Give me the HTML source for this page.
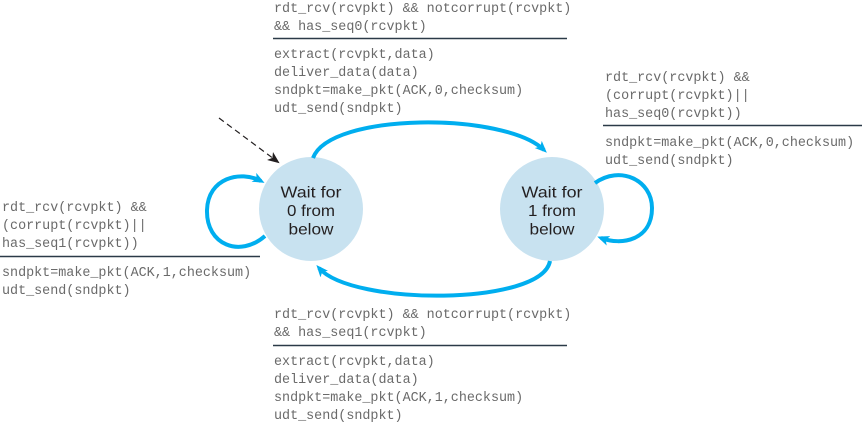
<!DOCTYPE html>
<html>
<head>
<meta charset="utf-8">
<style>
  html, body { margin:0; padding:0; background:#ffffff; }
  body { width:865px; height:422px; overflow:hidden; }
  svg { display:block; }
  .m { font-family:"Liberation Mono", monospace; font-size:13.4px; fill:#6a6a6a; }
  .s { font-family:"Liberation Sans", sans-serif; font-size:16px; fill:#231f20; text-anchor:middle; }
</style>
</head>
<body>
<svg width="865" height="422" viewBox="0 0 865 422" xmlns="http://www.w3.org/2000/svg">
  <defs>
    <marker id="ab" viewBox="0 0 12 10" refX="8" refY="5" markerWidth="12" markerHeight="10" markerUnits="userSpaceOnUse" orient="auto">
      <path d="M0,0 L12,5 L0,10 L3,5 z" fill="#00aeef"/>
    </marker>
    <marker id="ak" viewBox="0 0 12 10" refX="10" refY="5" markerWidth="12" markerHeight="10" markerUnits="userSpaceOnUse" orient="auto">
      <path d="M0,0 L12,5 L0,10 L3,5 z" fill="#231f20"/>
    </marker>
  </defs>

  <!-- states -->
  <circle cx="311" cy="209" r="52" fill="#c8e2f0"/>
  <circle cx="552" cy="209" r="52" fill="#c8e2f0"/>

  <text class="s" x="311" y="197.5" textLength="61" lengthAdjust="spacingAndGlyphs">Wait for</text>
  <text class="s" x="311" y="216" textLength="48" lengthAdjust="spacingAndGlyphs">0 from</text>
  <text class="s" x="311" y="234.5" textLength="45" lengthAdjust="spacingAndGlyphs">below</text>

  <text class="s" x="552" y="197.5" textLength="61" lengthAdjust="spacingAndGlyphs">Wait for</text>
  <text class="s" x="552" y="216" textLength="48" lengthAdjust="spacingAndGlyphs">1 from</text>
  <text class="s" x="552" y="234.5" textLength="45" lengthAdjust="spacingAndGlyphs">below</text>

  <!-- transitions -->
  <path d="M313,158 C330,112 505,112 544,150" fill="none" stroke="#00aeef" stroke-width="4" marker-end="url(#ab)"/>
  <path d="M550,261 C542,306 352,306 319,268" fill="none" stroke="#00aeef" stroke-width="4" marker-end="url(#ab)"/>
  <path d="M265,236 C240,258 206,245 207,210 C208,178 240,170 261,181" fill="none" stroke="#00aeef" stroke-width="4" marker-end="url(#ab)"/>
  <path d="M595,183 C620,165 652,180 652,208 C652,240 622,246 601,238" fill="none" stroke="#00aeef" stroke-width="4" marker-end="url(#ab)"/>

  <!-- initial dashed arrow -->
  <path d="M219,118 L278,162" fill="none" stroke="#231f20" stroke-width="1.2" stroke-dasharray="6,4" marker-end="url(#ak)"/>

  <!-- top label -->
  <text class="m" x="274" y="12">rdt_rcv(rcvpkt) &amp;&amp; notcorrupt(rcvpkt)</text>
  <text class="m" x="274" y="30">&amp;&amp; has_seq0(rcvpkt)</text>
  <line x1="273" y1="38.5" x2="567" y2="38.5" stroke="#2b3a48" stroke-width="1.4"/>
  <text class="m" x="274" y="58">extract(rcvpkt,data)</text>
  <text class="m" x="274" y="76">deliver_data(data)</text>
  <text class="m" x="274" y="94">sndpkt=make_pkt(ACK,0,checksum)</text>
  <text class="m" x="274" y="112">udt_send(sndpkt)</text>

  <!-- right label -->
  <text class="m" x="605" y="81">rdt_rcv(rcvpkt) &amp;&amp;</text>
  <text class="m" x="605" y="99">(corrupt(rcvpkt)||</text>
  <text class="m" x="605" y="117">has_seq0(rcvpkt))</text>
  <line x1="603" y1="125.5" x2="862" y2="125.5" stroke="#2b3a48" stroke-width="1.4"/>
  <text class="m" x="605" y="146">sndpkt=make_pkt(ACK,0,checksum)</text>
  <text class="m" x="605" y="164">udt_send(sndpkt)</text>

  <!-- left label -->
  <text class="m" x="2" y="211">rdt_rcv(rcvpkt) &amp;&amp;</text>
  <text class="m" x="2" y="229">(corrupt(rcvpkt)||</text>
  <text class="m" x="2" y="247">has_seq1(rcvpkt))</text>
  <line x1="0" y1="256.5" x2="260" y2="256.5" stroke="#2b3a48" stroke-width="1.4"/>
  <text class="m" x="2" y="276">sndpkt=make_pkt(ACK,1,checksum)</text>
  <text class="m" x="2" y="294">udt_send(sndpkt)</text>

  <!-- bottom label -->
  <text class="m" x="274" y="318">rdt_rcv(rcvpkt) &amp;&amp; notcorrupt(rcvpkt)</text>
  <text class="m" x="274" y="336">&amp;&amp; has_seq1(rcvpkt)</text>
  <line x1="273" y1="345.5" x2="567" y2="345.5" stroke="#2b3a48" stroke-width="1.4"/>
  <text class="m" x="274" y="365">extract(rcvpkt,data)</text>
  <text class="m" x="274" y="383">deliver_data(data)</text>
  <text class="m" x="274" y="401">sndpkt=make_pkt(ACK,1,checksum)</text>
  <text class="m" x="274" y="419">udt_send(sndpkt)</text>
</svg>
</body>
</html>
